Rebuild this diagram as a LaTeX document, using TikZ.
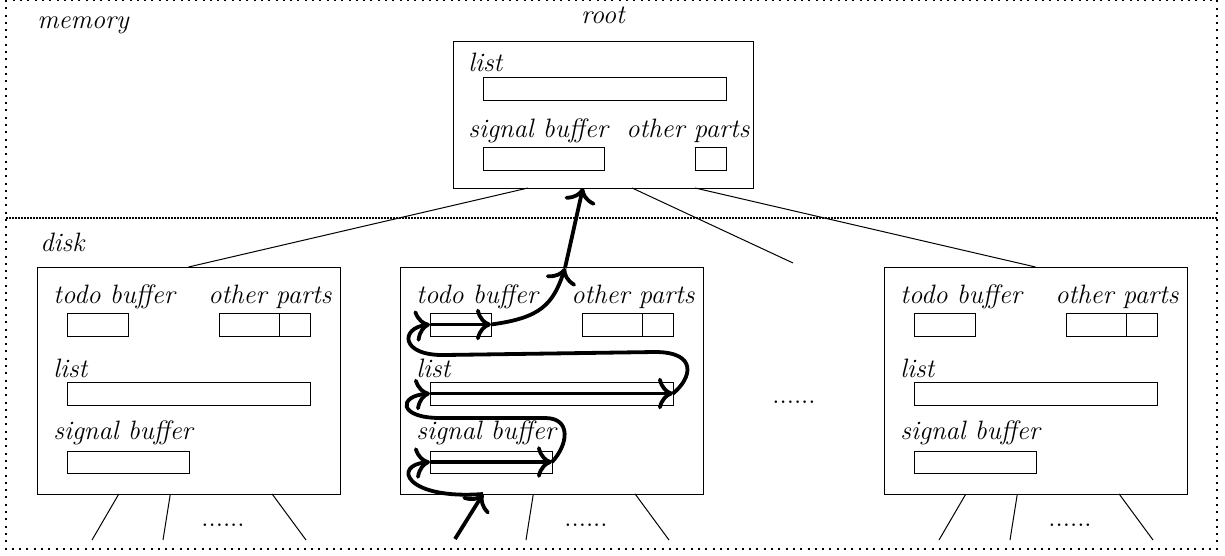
\documentclass[tikz,border=0pt]{standalone}
\usetikzlibrary{calc,arrows.meta}
\tikzset{
  lbl/.style={font=\fontsize{13.3}{15}\selectfont\itshape, inner sep=0pt, anchor=base west},
  dotsl/.style={font=\fontsize{13.3}{15}\selectfont, inner sep=0pt, anchor=base},
  cellst/.style={draw, line width=0.5pt, inner sep=0pt, outer sep=0pt},
  boxst/.style={draw, line width=0.5pt, inner sep=0pt, outer sep=0pt},
  link/.style={line width=0.5pt},
  flow/.style={line width=1.9pt, -{To[scale=1.3]}},
  border/.style={line width=1.2pt, dash pattern=on 1pt off 2.65pt},
  midline/.style={line width=1pt, dash pattern=on 1pt off 0.5pt},
}
\newcommand\cell[5]{%
  \node[cellst, minimum width={((#4)-(#2))*0.5pt}, minimum height={((#5)-(#3))*0.5pt}] (#1) at ({((#2)+(#4))/2},{((#3)+(#5))/2}) {};}
\newcommand\diskbox[2]{%
  \node[boxst, minimum width=151.5pt, minimum height=113.5pt] (#1) at ({(#2)+151.5},380.5) {};
  \node[lbl] (#1-todol) at ({(#2)+16},303) {todo buffer};
  \node[lbl] (#1-otherl) at ({(#2)+171},303) {other parts};
  \node[lbl] (#1-listl) at ({(#2)+16},377) {list};
  \node[lbl] (#1-sigl) at ({(#2)+16},439) {signal buffer};
  \cell{#1-todo}{(#2)+30}{313}{(#2)+91}{336}
  \cell{#1-oa}{(#2)+182}{313}{(#2)+242}{336}
  \cell{#1-ob}{(#2)+242}{313}{(#2)+273}{336}
  \cell{#1-list}{(#2)+30}{382}{(#2)+273}{405}
  \cell{#1-sig}{(#2)+30}{451}{(#2)+152}{473}
  \coordinate (#1-e2) at ({(#2)+126},540);
  \coordinate (#1-e3) at ({(#2)+269},540);
  \draw[link] ($(#1.south west)!0.44!(#1.south east)$) -- (#1-e2);
  \draw[link] ($(#1.south west)!0.776!(#1.south east)$) -- (#1-e3);
  \node[dotsl] (#1-dots) at ({(#2)+186},526) {......};
}
\begin{document}
\begin{tikzpicture}[x=0.5pt,y=-0.5pt]
\useasboundingbox (0,0) rectangle (1225,556);
% regions
\draw[border] (6,0) rectangle (1217,549);
\draw[midline] (6,218) -- (1217,218);
\node[lbl] (memory) at (37,29) {memory};
\node[lbl] (disk) at (40,251) {disk};
% root
\node[lbl, anchor=base] (rootl) at (603,24) {root};
\node[boxst, minimum width=150pt, minimum height=73pt] (root) at (603,115) {};
\node[lbl] (root-listl) at (468,72) {list};
\node[lbl] (root-sigl) at (468,137) {signal buffer};
\node[lbl] (root-otherl) at (626,137) {other parts};
\cell{root-list}{483}{78}{726}{101}
\cell{root-sig}{483}{147}{604}{170}
\cell{root-other}{695}{147}{726}{170}
% disk boxes
\diskbox{L}{37}
\diskbox{M}{400}
\diskbox{R}{884}
\node[dotsl] (mid-dots) at (794,403) {......};
% first bottom lines of L and R
\coordinate (L-e1) at (92,540);
\coordinate (R-e1) at (939,540);
\draw[link] ($(L.south west)!0.27!(L.south east)$) -- (L-e1);
\draw[link] ($(R.south west)!0.27!(R.south east)$) -- (R-e1);
% root connectors
\coordinate (dots-top) at (793,263);
\draw[link] ($(root.south west)!0.25!(root.south east)$) -- (L.north);
\draw[link] ($(root.south west)!0.597!(root.south east)$) -- (dots-top);
\draw[link] ($(root.south west)!0.807!(root.south east)$) -- (R.north);
% flow
\coordinate (in) at (455,539);
\coordinate (Mb) at ($(M.south west)!0.274!(M.south east)$);
\coordinate (mid) at (565,268);
\draw[flow] (in) -- (Mb);
\draw[flow] (Mb) .. controls (405,500) and (392,465) .. (M-sig.west);
\draw[flow] (M-sig.west) -- (M-sig.east);
\draw[flow] (M-sig.east) .. controls (568,445) and (572,418) .. (545,418) -- (440,418) .. controls (398,418) and (398,396) .. (M-list.west);
\draw[flow] (M-list.west) -- (M-list.east);
\draw[flow] (M-list.east) .. controls (692,378) and (698,352) .. (655,352) -- (445,355) .. controls (400,356) and (400,328) .. (M-todo.west);
\draw[flow] (M-todo.west) -- (M-todo.east);
\draw[flow] (M-todo.east) .. controls (540,318) and (553,305) .. (mid);
\draw[flow] (mid) -- ($(root.south west)!0.433!(root.south east)$);
\end{tikzpicture}
\end{document}
